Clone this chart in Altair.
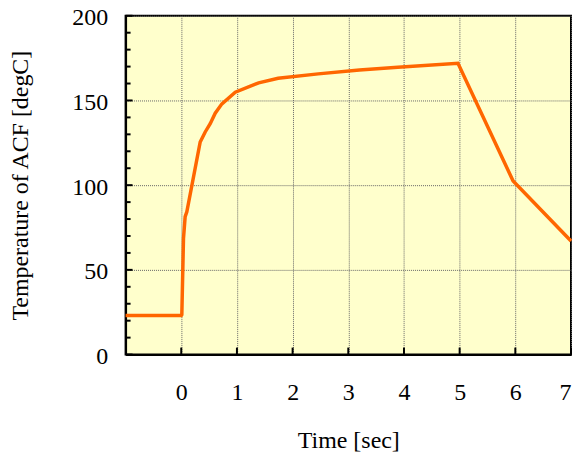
import altair as alt
import pandas as pd

time = [-1, 0, 0.01, 0.04, 0.07, 0.10, 0.34, 0.43, 0.52, 0.61, 0.73, 0.97,
        1.39, 1.74, 2.46, 3.2, 3.89, 4.97, 5.96, 7.0]
temp = [23, 23, 23.5, 68.6, 81.4, 84.3, 125.5, 131.4, 136.3, 142.5, 148, 154.9,
        160.4, 163.1, 165.7, 168, 169.6, 172, 102.5, 67]

x_ticks = [0, 1, 2, 3, 4, 5, 6, 7]
y_ticks = [0, 50, 100, 150, 200]
y_minor = [10, 20, 30, 40, 60, 70, 80, 90, 110, 120, 130, 140, 160, 170, 180, 190]

W, H = 447, 340
FONT = "Times New Roman, Liberation Serif, serif"

df = pd.DataFrame({"t": time, "T": temp})
xs = alt.Scale(domain=[-1, 7], nice=False)
ys = alt.Scale(domain=[0, 200], nice=False)

line = alt.Chart(df).mark_line(color="#FF6600", strokeWidth=3.5).encode(
    x=alt.X("t:Q", scale=xs, title="Time [sec]",
            axis=alt.Axis(values=x_ticks, format="d", grid=True, ticks=False, tickSize=0,
                          labelBaseline="alphabetic", labelPadding=45,
                          titleY=93, titleBaseline="alphabetic",
                          labelFontSize=24, titleFontSize=24)),
    y=alt.Y("T:Q", scale=ys, title="Temperature of ACF [degC]",
            axis=alt.Axis(values=y_ticks, format="d", grid=True, ticks=False, tickSize=0,
                          labelBaseline="alphabetic", labelOffset=9, labelPadding=18,
                          titleX=-98, titleY=H / 2, titleAngle=270,
                          titleBaseline="alphabetic", titleAlign="center",
                          labelFontSize=24, titleFontSize=24)),
)

xt = alt.Chart(pd.DataFrame({"v": x_ticks})).mark_rule(color="black", strokeWidth=2).encode(
    x=alt.X("v:Q", scale=xs), y=alt.value(H), y2=alt.value(H - 7))
ytm = alt.Chart(pd.DataFrame({"v": y_ticks})).mark_rule(color="black", strokeWidth=2).encode(
    y=alt.Y("v:Q", scale=ys), x=alt.value(0), x2=alt.value(7))
ytn = alt.Chart(pd.DataFrame({"v": y_minor})).mark_rule(color="black", strokeWidth=2).encode(
    y=alt.Y("v:Q", scale=ys), x=alt.value(0), x2=alt.value(5))

chart = alt.layer(line, xt, ytm, ytn).properties(
    width=W, height=H,
    autosize=alt.AutoSizeParams(type="none"),
    padding={"left": 118, "top": 7, "right": 2, "bottom": 100},
).configure_view(
    fill="#FFFFCC", stroke="black", strokeWidth=2
).configure_axis(
    labelFont=FONT, titleFont=FONT, labelColor="black", titleColor="black",
    titleFontWeight="normal", domainColor="black", domainWidth=2,
    gridColor="#666666", gridDash=[1, 1], gridWidth=1, gridOpacity=1,
)

chart.save("out.html", embed_options={"renderer": "svg", "actions": False})
